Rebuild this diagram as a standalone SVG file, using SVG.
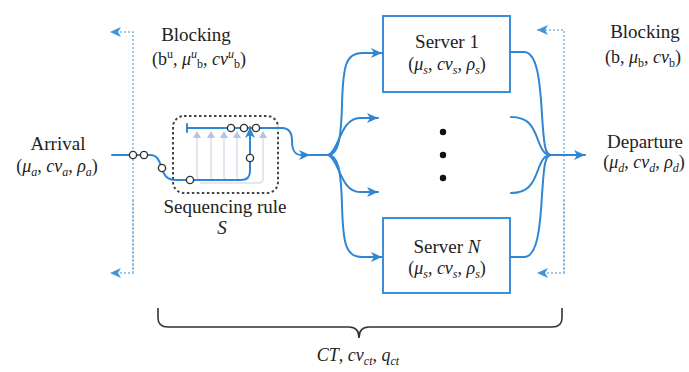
<svg xmlns="http://www.w3.org/2000/svg" width="689" height="372" viewBox="0 0 689 372">
  <style>
    .txt { font-family: "Liberation Serif", "DejaVu Serif", serif; font-size: 19px; fill: #222; }
    .math { font-family: "Liberation Serif", "DejaVu Serif", serif; font-size: 18px; fill: #222; }
    .it { font-style: italic; }
    .sub { font-size: 12px; }
    .flow { fill: none; stroke: #2f86d3; stroke-width: 2; stroke-linecap: round; }
    .block { fill: none; stroke: #7db7e4; stroke-width: 1.5; stroke-dasharray: 2 2; }
    .box { fill: #fff; stroke: #3a8fd6; stroke-width: 2; }
    .pt { fill: #fff; stroke: #333; stroke-width: 1.4; }
    .ghost { fill: none; stroke: #dcdfea; stroke-width: 1.5; }
    .ghosttri { fill: #b6c4e4; }
    .frame { fill: none; stroke: #444; stroke-width: 2; stroke-dasharray: 2.5 2.5; }
    .brace { fill: none; stroke: #333; stroke-width: 1.6; }
  </style>
  <defs>
    <marker id="arr" markerUnits="userSpaceOnUse" markerWidth="14" markerHeight="12" refX="11" refY="5" orient="auto">
      <path d="M0,0 L11,5 L0,10 L3,5 Z" fill="#2f86d3"/>
    </marker>
    <marker id="arrLight" markerUnits="userSpaceOnUse" markerWidth="14" markerHeight="12" refX="11" refY="5" orient="auto">
      <path d="M0,0 L11,5 L0,10 L3,5 Z" fill="#3d95db"/>
    </marker>
  </defs>

  <!-- blocking feedback lines -->
  <g id="blocking-upstream">
    <path class="block" d="M133,273 V32 H110" marker-end="url(#arrLight)"/>
    <path class="block" d="M133,200 V273 H110" marker-end="url(#arrLight)"/>
    <text class="txt" x="196" y="41" text-anchor="middle">Blocking</text>
    <text class="math" x="199" y="65" text-anchor="middle">(b<tspan class="sub" dy="-7">u</tspan><tspan dy="7">, </tspan><tspan class="it">μ</tspan><tspan class="sub it" dy="-7">u</tspan><tspan class="sub" dy="10">b</tspan><tspan dy="-3">, </tspan><tspan class="it">cv</tspan><tspan class="sub it" dy="-7">u</tspan><tspan class="sub" dy="10">b</tspan><tspan dy="-3">)</tspan></text>
  </g>

  <g id="blocking-downstream">
    <path class="block" d="M564,273 V30 H537" marker-end="url(#arrLight)"/>
    <path class="block" d="M564,200 V273 H537" marker-end="url(#arrLight)"/>
    <text class="txt" x="645" y="38" text-anchor="middle">Blocking</text>
    <text class="math" x="643" y="63" text-anchor="middle">(b, <tspan class="it">μ</tspan><tspan class="sub" dy="4">b</tspan><tspan dy="-4">, </tspan><tspan class="it">cv</tspan><tspan class="sub" dy="4">b</tspan><tspan dy="-4">)</tspan></text>
  </g>

  <!-- arrival -->
  <g id="arrival">
    <text class="txt" x="58" y="150" text-anchor="middle">Arrival</text>
    <text class="math" x="57" y="172" text-anchor="middle">(<tspan class="it">μ</tspan><tspan class="sub it" dy="4">a</tspan><tspan dy="-4">, </tspan><tspan class="it">cv</tspan><tspan class="sub it" dy="4">a</tspan><tspan dy="-4">, </tspan><tspan class="it">ρ</tspan><tspan class="sub it" dy="4">a</tspan><tspan dy="-4">)</tspan></text>
  </g>

  <!-- sequencing buffer -->
  <g id="sequencing">
    <rect class="frame" x="173" y="116" width="105" height="77" rx="11"/>
    <g id="ghost-routes">
      <path class="ghost" d="M197,138 V176 Q197,180 201,180"/>
      <path class="ghost" d="M211,138 V176 Q211,180 215,180"/>
      <path class="ghost" d="M224,138 V176 Q224,180 228,180"/>
      <path class="ghost" d="M237,138 V176 Q237,180 241,180"/>
      <path class="ghost" d="M263,138 V178 Q263,183 258,183 H200"/>
      <path class="ghosttri" d="M197,131 L201,138 L193,138 Z"/>
      <path class="ghosttri" d="M211,131 L215,138 L207,138 Z"/>
      <path class="ghosttri" d="M224,131 L228,138 L220,138 Z"/>
      <path class="ghosttri" d="M237,131 L241,138 L233,138 Z"/>
      <path class="ghosttri" d="M263,131 L267,138 L259,138 Z"/>
    </g>
    <text class="txt" x="225" y="213" text-anchor="middle">Sequencing rule</text>
    <text class="txt it" x="222" y="234" text-anchor="middle" font-size="20">S</text>
  </g>

  <!-- servers -->
  <g id="server-1">
    <rect class="box" x="383" y="16" width="127" height="76"/>
    <text class="txt" x="447" y="48" text-anchor="middle">Server 1</text>
    <text class="math" x="447" y="70" text-anchor="middle">(<tspan class="it">μ</tspan><tspan class="sub it" dy="4">s</tspan><tspan dy="-4">, </tspan><tspan class="it">cv</tspan><tspan class="sub it" dy="4">s</tspan><tspan dy="-4">, </tspan><tspan class="it">ρ</tspan><tspan class="sub it" dy="4">s</tspan><tspan dy="-4">)</tspan></text>
  </g>

  <g id="server-n">
    <rect class="box" x="383" y="218" width="127" height="75"/>
    <text class="txt" x="447" y="253" text-anchor="middle">Server <tspan class="it">N</tspan></text>
    <text class="math" x="447" y="274" text-anchor="middle">(<tspan class="it">μ</tspan><tspan class="sub it" dy="4">s</tspan><tspan dy="-4">, </tspan><tspan class="it">cv</tspan><tspan class="sub it" dy="4">s</tspan><tspan dy="-4">, </tspan><tspan class="it">ρ</tspan><tspan class="sub it" dy="4">s</tspan><tspan dy="-4">)</tspan></text>
  </g>

  <g id="more-servers">
    <circle cx="443" cy="132" r="3.2" fill="#111"/>
    <circle cx="443" cy="155" r="3.2" fill="#111"/>
    <circle cx="443" cy="178" r="3.2" fill="#111"/>
  </g>

  <!-- departure -->
  <g id="departure">
    <text class="txt" x="645" y="148" text-anchor="middle">Departure</text>
    <text class="math" x="644" y="168" text-anchor="middle">(<tspan class="it">μ</tspan><tspan class="sub it" dy="4">d</tspan><tspan dy="-4">, </tspan><tspan class="it">cv</tspan><tspan class="sub it" dy="4">d</tspan><tspan dy="-4">, </tspan><tspan class="it">ρ</tspan><tspan class="sub it" dy="4">d</tspan><tspan dy="-4">)</tspan></text>
  </g>

  <!-- connectors -->
  <g id="connectors">
    <!-- arrival into buffer -->
    <path class="flow" d="M112,155 H150 C157,155 159,160 161,166 C164,176 167,180 176,180 H241 Q250,180 250,171 V127" marker-end="url(#arr)"/>
    <!-- buffer head out to dispatch -->
    <path class="flow" d="M187,124 V132 M187,128 H282 C290,128 292,134 292,141 C292,151 295,155 302,155 H310" marker-end="url(#arr)"/>
    <path class="flow" d="M306,155 H328"/>
    <!-- dispatch to servers -->
    <path class="flow" d="M328,155 C338,155 341,140 342,105 C343,65 346,53 362,53 H382" marker-end="url(#arr)"/>
    <path class="flow" d="M328,155 C339,152 340,118 360,118 H378" marker-end="url(#arr)"/>
    <path class="flow" d="M328,155 C339,158 340,192 360,192 H378" marker-end="url(#arr)"/>
    <path class="flow" d="M328,155 C338,155 341,170 342,205 C343,245 346,257 362,257 H382" marker-end="url(#arr)"/>
    <!-- servers to departure -->
    <path class="flow" d="M510,52 H524 C537,52 540,80 542,115 C544,145 545,155 551,155"/>
    <path class="flow" d="M511,117 C528,117 533,126 538,140 C542,151 545,155 551,155"/>
    <path class="flow" d="M511,193 C528,193 533,184 538,170 C542,159 545,155 551,155"/>
    <path class="flow" d="M510,257 H524 C537,257 540,230 542,195 C544,165 545,155 551,155"/>
    <path class="flow" d="M550,155 H585" marker-end="url(#arr)"/>
  </g>

  <!-- jobs in the system -->
  <g id="jobs">
    <circle class="pt" cx="133" cy="155" r="3.6"/>
    <circle class="pt" cx="144" cy="155" r="3.6"/>
    <circle class="pt" cx="162" cy="168" r="3.6"/>
    <circle class="pt" cx="190" cy="180" r="3.6"/>
    <circle class="pt" cx="250" cy="158" r="3.6"/>
    <circle class="pt" cx="231" cy="128" r="3.6"/>
    <circle class="pt" cx="244" cy="128" r="3.6"/>
    <circle class="pt" cx="256" cy="128" r="3.6"/>
  </g>

  <!-- system-level measures -->
  <g id="cycle-time">
    <path class="brace" d="M158,308 V318 Q158,327 168,327 H349 Q359,327 359,338 Q359,327 369,327 H552 Q562,327 562,318 V308"/>
    <text class="math" x="358" y="361" text-anchor="middle"><tspan class="it">CT</tspan>, <tspan class="it">cv</tspan><tspan class="sub it" dy="4">ct</tspan><tspan dy="-4">, </tspan><tspan class="it">q</tspan><tspan class="sub it" dy="4">ct</tspan></text>
  </g>
</svg>
